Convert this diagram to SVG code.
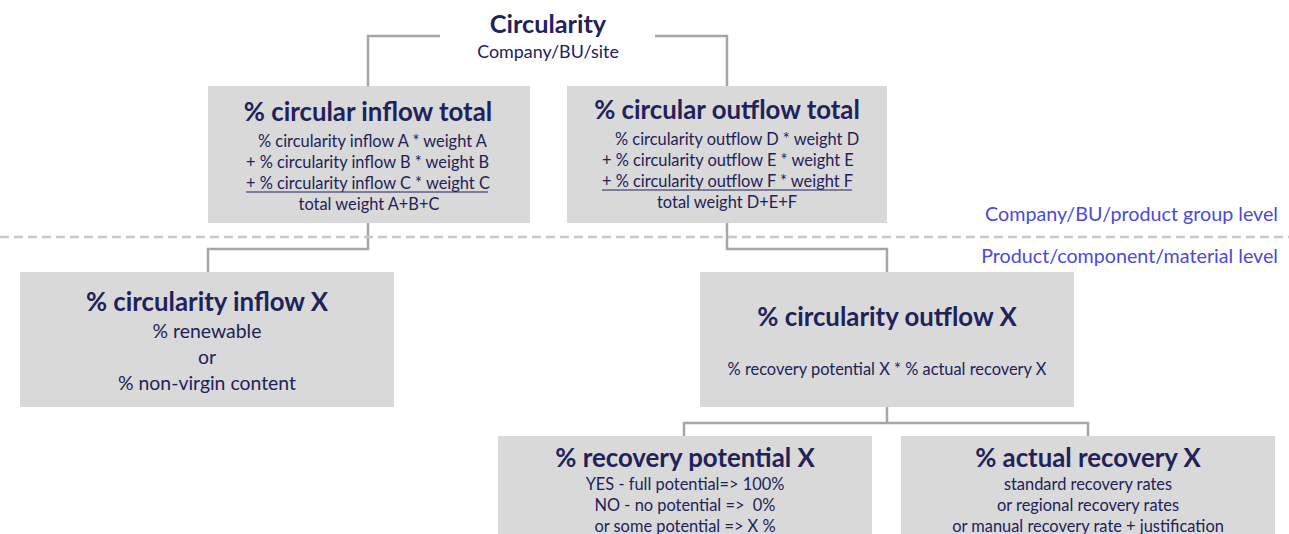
<svg xmlns="http://www.w3.org/2000/svg" width="1289" height="534" viewBox="0 0 1289 534">
<style>
.box{fill:#d9d9d9}
.t{font-family:Lato,"Liberation Sans",sans-serif;fill:#22225a}
.h{font-weight:bold;font-size:25.8px;text-anchor:middle}
.s{font-size:16.4px}
.m{font-size:19.4px;text-anchor:middle}
.c{text-anchor:middle}
.lvl{font-family:Lato,"Liberation Sans",sans-serif;font-size:19.7px;fill:#4a4ad6;text-anchor:end}
.ln{fill:none;stroke:#a6a6a6;stroke-width:2.5}
</style>
<rect width="1289" height="534" fill="#ffffff"/>
<g id="connectors">
<path class="ln" d="M440 36 H368 V86"/>
<path class="ln" d="M655 36 H727 V86"/>
<path class="ln" d="M368 222 V249 H208 V272"/>
<path class="ln" d="M727 222 V249 H887 V272"/>
<path class="ln" d="M887 407 V423 H684 V436"/>
<path class="ln" d="M887 423 H1088 V436"/>
</g>
<line x1="0" y1="237" x2="1289" y2="237" stroke="#c8c8c8" stroke-width="2.5" stroke-dasharray="9 5"/>
<text class="lvl" x="1278" y="221">Company/BU/product group level</text>
<text class="lvl" x="1278" y="263">Product/component/material level</text>
<g id="circularity">
<text class="t h" x="548" y="33" style="font-size:25.3px">Circularity</text>
<text class="t m" x="548" y="58" style="font-size:17.9px">Company/BU/site</text>
</g>
<g id="inflow-total">
<rect class="box" x="208" y="86" width="322" height="137"/>
<text class="t h" x="368" y="121">% circular inflow total</text>
<text class="t s" x="258" y="147">% circularity inflow A * weight A</text>
<text class="t s" x="246" y="168">+ % circularity inflow B * weight B</text>
<text class="t s" x="246" y="189">+ % circularity inflow C * weight C</text>
<line x1="246" y1="192" x2="488" y2="192" stroke="#22225a" stroke-width="1"/>
<text class="t s c" x="369" y="210">total weight A+B+C</text>
</g>
<g id="outflow-total">
<rect class="box" x="567" y="86" width="320" height="137"/>
<text class="t h" x="727" y="119">% circular outflow total</text>
<text class="t s" x="615" y="145">% circularity outflow D * weight D</text>
<text class="t s" x="602" y="166">+ % circularity outflow E * weight E</text>
<text class="t s" x="602" y="187">+ % circularity outflow F * weight F</text>
<line x1="602" y1="190" x2="852" y2="190" stroke="#22225a" stroke-width="1"/>
<text class="t s c" x="727" y="208">total weight D+E+F</text>
</g>
<g id="inflow-x">
<rect class="box" x="20" y="272" width="374" height="135"/>
<text class="t h" x="207" y="311">% circularity inflow X</text>
<text class="t m" x="207" y="338">% renewable</text>
<text class="t m" x="207" y="364">or</text>
<text class="t m" x="207" y="390">% non-virgin content</text>
</g>
<g id="outflow-x">
<rect class="box" x="700" y="272" width="374" height="135"/>
<text class="t h" x="887" y="326">% circularity outflow X</text>
<text class="t s c" x="887" y="375">% recovery potential X * % actual recovery X</text>
</g>
<g id="recovery-potential">
<rect class="box" x="498" y="436" width="374" height="110"/>
<text class="t h" x="685" y="467">% recovery potential X</text>
<text class="t s c" x="685" y="490">YES - full potential=&gt; 100%</text>
<text class="t s c" x="685" y="511" xml:space="preserve">NO - no potential =&gt;  0%</text>
<text class="t s c" x="685" y="532">or some potential =&gt; X %</text>
</g>
<g id="actual-recovery">
<rect class="box" x="901" y="436" width="374" height="110"/>
<text class="t h" x="1088" y="467">% actual recovery X</text>
<text class="t s c" x="1088" y="490">standard recovery rates</text>
<text class="t s c" x="1088" y="511">or regional recovery rates</text>
<text class="t s c" x="1088" y="532">or manual recovery rate + justification</text>
</g>
</svg>
